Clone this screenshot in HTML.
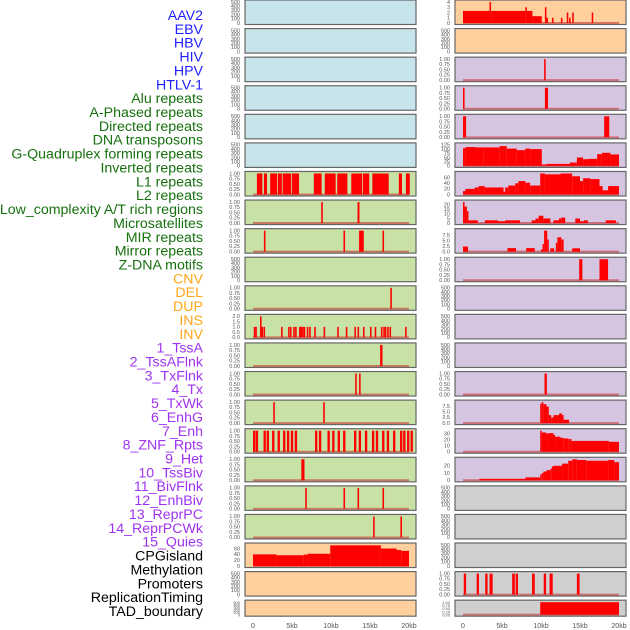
<!DOCTYPE html>
<html><head><meta charset="utf-8">
<style>
html,body{margin:0;padding:0;background:#fff;}
#wrap{position:relative;width:630px;height:630px;overflow:hidden;font-family:"Liberation Sans",sans-serif;}
svg{position:absolute;left:0;top:0;}
</style></head>
<body>
<div id="wrap">
<svg id="chart" width="630" height="630" viewBox="0 0 630 630"></svg>
</div>
<script>
// ---- labels ----
const trackLabels = ["AAV2","EBV","HBV","HIV","HPV","HTLV-1","Alu repeats","A-Phased repeats","Directed repeats","DNA transposons","G-Quadruplex forming repeats","Inverted repeats","L1 repeats","L2 repeats","Low_complexity A/T rich regions","Microsatellites","MIR repeats","Mirror repeats","Z-DNA motifs","CNV","DEL","DUP","INS","INV","1_TssA","2_TssAFlnk","3_TxFlnk","4_Tx","5_TxWk","6_EnhG","7_Enh","8_ZNF_Rpts","9_Het","10_TssBiv","11_BivFlnk","12_EnhBiv","13_ReprPC","14_ReprPCWk","15_Quies","CPGisland","Methylation","Promoters","ReplicationTiming","TAD_boundary"];
const labelGroups = [6,13,5,15,5];
const xTicks = [0,5,10,15,20];
const xTickLabels = ["0","5kb","10kb","15kb","20kb"];

// ---- data: segments [startKb, endKb, value] ----
const L7 = [[0.5,1.2,1],[1.4,1.8,1],[2.2,3.1,1],[3.2,3.7,1],[3.8,4.9,1],[5.0,5.9,1],[7.8,8.8,1],[9.2,10.6,1],[10.8,12.1,1],[12.6,14.0,1],[14.1,14.9,1],[15.3,17.4,1],[18.7,19.1,1],[19.6,20.1,1]];
const L8 = [[8.75,8.95,1],[13.4,13.65,1]];
const L9 = [[1.4,1.6,1],[11.6,11.8,1],[13.6,14.2,1],[16.6,16.8,1]];
const L11 = [[17.6,17.8,1]];
const L12 = [[0.1,0.3,1],[0.3,0.45,1],[0.9,1.1,2],[1.1,1.25,1],[1.35,1.5,1],[3.6,3.8,1],[4.5,4.7,1],[4.75,4.9,1],[5.15,5.35,1],[5.4,5.6,1],[5.9,6.1,1],[6.1,6.3,1],[6.3,6.5,1],[6.5,6.7,1],[6.9,7.1,1],[7.2,7.4,1],[7.85,8.05,1],[9.05,9.25,1],[10.8,11.0,1],[11.9,12.1,1],[13.0,13.2,1],[13.4,13.6,1],[14.1,14.3,1],[15.0,15.2,1],[15.6,15.8,1],[16.4,16.6,1],[16.7,16.9,1],[16.9,17.1,1],[17.2,17.4,1],[17.5,17.7,1],[19.5,19.7,1]];
const L13 = [[16.3,16.6,1]];
const L14 = [[13.1,13.3,1],[13.6,13.8,1]];
const L15 = [[2.6,2.8,1],[9.0,9.2,1]];
const L16 = [[0,0.3,1],[0.35,0.65,1],[1.35,1.65,1],[1.75,2.05,1],[2.45,2.75,1],[3.15,3.45,1],[3.85,4.15,1],[4.35,4.65,1],[4.85,5.15,1],[5.35,5.65,1],[7.95,8.25,1],[8.45,8.75,1],[9.55,9.85,1],[10.15,10.45,1],[10.85,11.15,1],[11.55,11.85,1],[12.95,13.25,1],[13.55,13.85,1],[14.35,14.65,1],[15.25,15.55,1],[15.75,16.05,1],[16.55,16.85,1],[17.15,17.45,1],[17.95,18.25,1],[18.85,19.15,1],[19.25,19.55,1],[19.75,20.05,1],[20.2,20.5,1]];
const L17 = [[6.2,6.6,1]];
const L18 = [[6.7,6.9,1],[11.6,11.8,1],[13.4,13.6,1],[16.6,16.8,1]];
const L19 = [[15.4,15.6,1],[18.9,19.1,1]];
const L20 = [[0,3,40],[3,6.5,37],[6.5,7,39],[7,9.9,42],[9.9,16.4,71],[16.4,18.4,60],[18.4,19,55],[19,20,52]];
const R1 = [[0,3.4,2.3],[3.4,3.6,4],[3.6,8.0,2.3],[8.0,8.2,3],[8.2,8.9,2.3],[8.9,10.1,1.3],[10.5,10.7,3],[10.7,10.9,1],[11.4,11.6,1],[12.55,12.75,1],[13.3,13.5,2],[13.6,13.8,1],[14.0,14.2,2],[16.5,16.7,2]];
const R3 = [[10.4,10.6,1]];
const R4 = [[0,0.2,1],[10.5,10.9,1]];
const R5 = [[0,0.4,1],[18.1,18.75,1]];
const R6 = [[0,0.3,105],[0.3,1.6,112],[1.6,2.6,110],[2.6,4.7,110],[4.7,5.6,118],[5.6,6.9,103],[6.9,8.0,94],[8.0,8.6,103],[8.6,10.1,100],[10.1,10.7,8],[10.7,13.7,12],[13.7,14.6,20],[14.6,15.4,50],[15.4,16.1,40],[16.1,17.2,42],[17.2,17.8,70],[17.8,18.9,78],[18.9,20,68]];
const R7 = [[0,0.3,12],[0.3,1.5,20],[1.5,2.0,25],[2.0,2.8,30],[2.8,5.2,25],[5.2,5.4,10],[5.4,5.8,25],[5.8,6.7,32],[6.7,7.1,40],[7.1,8.0,48],[8.0,8.6,42],[8.6,9.9,32],[9.9,10.5,75],[10.5,12.5,72],[12.5,14.0,75],[14.0,15.0,65],[15.0,15.4,48],[15.4,16.3,58],[16.3,17.5,55],[17.5,17.9,30],[17.9,18.6,15],[18.6,20,30]];
const R8 = [[0,0.2,23],[0.2,0.5,18],[0.5,0.7,13],[0.7,1.9,3],[2.8,4.5,3],[4.5,5.4,2],[5.4,6.2,3],[6.2,7.3,3],[8.8,9.3,3],[9.3,9.7,5],[9.7,10.3,8],[10.3,11.2,5],[11.6,12.3,3],[12.3,12.6,5],[12.6,13.1,6],[14.4,15.0,5],[15.0,15.5,2],[15.5,16.0,3],[18.3,19.6,3]];
const R9 = [[0,0.65,2.3],[5.7,6.8,1.6],[8.1,9.2,1.6],[10.0,10.2,1],[10.2,10.4,3.5],[10.4,10.8,9.5],[10.8,11.0,5.5],[11.2,11.7,1.5],[11.9,12.1,4],[12.1,12.6,6.5],[12.6,12.9,5.5],[14.0,15.0,1.5]];
const R10 = [[14.9,15.3,1],[17.5,18.6,1]];
const R14 = [[10.45,10.75,1]];
const R15 = [[9.9,10.1,8.5],[10.1,10.3,9.2],[10.3,10.7,8.3],[10.7,11.0,7.2],[11.0,11.3,3.5],[11.3,11.6,2.5],[11.6,12.3,3.5],[12.3,12.7,4.2],[12.7,12.9,3.5],[12.9,13.6,1.5]];
const R16 = [[9.9,10.1,35],[10.1,10.7,32],[10.7,10.9,30],[10.9,11.6,31],[11.6,11.8,28],[11.8,12.5,25],[12.5,12.9,23],[12.9,13.5,22],[13.5,13.9,21],[13.9,18.7,18],[18.7,20,16.5]];
const R17 = [[2.1,8.0,2],[8.0,9.9,4],[9.9,10.1,8],[10.1,10.3,10],[10.3,10.7,12],[10.7,11.2,14],[11.2,11.4,16],[11.4,11.6,19],[11.6,12.7,20],[12.7,13.5,23],[13.5,14.0,27],[14.0,14.6,29],[14.6,15.8,28],[15.8,18.6,27],[18.6,19.4,28],[19.4,20,25]];
const R21 = [[0.1,0.4,1],[1.75,2.05,1],[2.85,3.15,1],[3.4,3.8,1],[6.3,6.65,1],[6.75,7.05,1],[8.85,9.2,1],[10.35,10.65,1],[11.1,11.5,1],[14.6,14.95,1]];
const R22 = [[9.9,20,1]];

// ---- tick sets ----
const TICK_EMPTY = [[0,"0"],[100,"100"],[200,"200"],[300,"300"],[400,"400"],[500,"500"]];
const TICK_BIN = [[0,"0.00"],[0.25,"0.25"],[0.5,"0.50"],[0.75,"0.75"],[1,"1.00"]];

const C_BLUE="#c7e4eb", C_GREEN="#c8e1a4", C_PEACH="#ffd09e", C_LAV="#d5c5e1", C_GREY="#cfcfcf";

// panel defs: [col, row, bg, segments, ymax, ticks]
const panels = [
 [0,0,C_BLUE,null,500,TICK_EMPTY],[0,1,C_BLUE,null,500,TICK_EMPTY],[0,2,C_BLUE,null,500,TICK_EMPTY],
 [0,3,C_BLUE,null,500,TICK_EMPTY],[0,4,C_BLUE,null,500,TICK_EMPTY],[0,5,C_BLUE,null,500,TICK_EMPTY],
 [0,6,C_GREEN,L7,1,TICK_BIN],[0,7,C_GREEN,L8,1,TICK_BIN],[0,8,C_GREEN,L9,1,TICK_BIN],
 [0,9,C_GREEN,null,500,TICK_EMPTY],[0,10,C_GREEN,L11,1,TICK_BIN],
 [0,11,C_GREEN,L12,2,[[0,"0.0"],[0.5,"0.5"],[1,"1.0"],[1.5,"1.5"],[2,"2.0"]]],
 [0,12,C_GREEN,L13,1,TICK_BIN],[0,13,C_GREEN,L14,1,TICK_BIN],[0,14,C_GREEN,L15,1,TICK_BIN],
 [0,15,C_GREEN,L16,1,TICK_BIN],[0,16,C_GREEN,L17,1,TICK_BIN],[0,17,C_GREEN,L18,1,TICK_BIN],
 [0,18,C_GREEN,L19,1,TICK_BIN],
 [0,19,C_PEACH,L20,72,[[0,"0"],[20,"20"],[40,"40"],[60,"60"]]],
 [0,20,C_PEACH,null,500,TICK_EMPTY],[0,21,C_PEACH,null,500,TICK_EMPTY],
 [1,0,C_PEACH,R1,4,[[0,"0"],[1,"1"],[2,"2"],[3,"3"],[4,"4"]]],[1,1,C_PEACH,null,500,TICK_EMPTY],
 [1,2,C_LAV,R3,1,TICK_BIN],[1,3,C_LAV,R4,1,TICK_BIN],[1,4,C_LAV,R5,1,TICK_BIN],
 [1,5,C_LAV,R6,125,[[0,"0"],[25,"25"],[50,"50"],[75,"75"],[100,"100"],[125,"125"]]],
 [1,6,C_LAV,R7,75,[[0,"0"],[20,"20"],[40,"40"],[60,"60"]]],
 [1,7,C_LAV,R8,23,[[0,"0"],[5,"5"],[10,"10"],[15,"15"],[20,"20"]]],
 [1,8,C_LAV,R9,9.5,[[0,"0.0"],[2.5,"2.5"],[5,"5.0"],[7.5,"7.5"]]],
 [1,9,C_LAV,R10,1,TICK_BIN],[1,10,C_LAV,null,500,TICK_EMPTY],[1,11,C_LAV,null,500,TICK_EMPTY],
 [1,12,C_LAV,null,500,TICK_EMPTY],[1,13,C_LAV,R14,1,TICK_BIN],
 [1,14,C_LAV,R15,9.2,[[0,"0.0"],[2.5,"2.5"],[5,"5.0"],[7.5,"7.5"]]],
 [1,15,C_LAV,R16,35,[[0,"0"],[10,"10"],[20,"20"],[30,"30"]]],
 [1,16,C_LAV,R17,29,[[0,"0"],[10,"10"],[20,"20"]]],
 [1,17,C_GREY,null,500,TICK_EMPTY],[1,18,C_GREY,null,500,TICK_EMPTY],[1,19,C_GREY,null,500,TICK_EMPTY],
 [1,20,C_GREY,R21,1,TICK_BIN],[1,21,C_GREY,R22,1,TICK_BIN]
];

const NS="http://www.w3.org/2000/svg";
const svg=document.getElementById('chart');
function mk(tag,attrs,parent){const e=document.createElementNS(NS,tag);for(const k in attrs)e.setAttribute(k,attrs[k]);(parent||svg).appendChild(e);return e;}

// axis functions
const colLeft=[245,455], colW=171;
const x0=[253,463], pxPerKb=7.8;
function xScale(col,kb){return x0[col]+kb*pxPerKb;}
function rowTop(r){return r*28.58;}
function rowH(r){return r===21?16:24.5;}
function yScale(r,v,ymax){const t=rowTop(r)+2,b=rowTop(r)+rowH(r)-1.5;return b-(v/ymax)*(b-t);}

// labels
const labelColors=["#1f1fff","#17700f","#ffa61a","#a033f0","#000000"];
let li=0;
labelGroups.forEach((n,g)=>{for(let k=0;k<n;k++){const t=mk('text',{x:203,y:15+li*13.86+5,'text-anchor':'end','font-size':'14.2',fill:labelColors[g]});


t.textContent=trackLabels[li];li++;}});

panels.forEach((p,i)=>{
 const [col,r,bg,segs,ymax,ticks]=p;
 const g=mk('g',{});
 
 
 const top=rowTop(r),h=rowH(r);
 mk('rect',{x:colLeft[col],y:top,width:colW,height:h,fill:bg,stroke:'none'},g);
 if(segs){
  const bl=mk('line',{x1:xScale(col,0),x2:xScale(col,20),y1:yScale(r,0,ymax),y2:yScale(r,0,ymax),stroke:'rgba(200,40,40,0.55)','stroke-width':2},g);
  
  
  segs.forEach(s=>{
   const xa=xScale(col,s[0]),xb=xScale(col,s[1]);
   const y=yScale(r,s[2],ymax),yb=yScale(r,0,ymax);
   const b=mk('rect',{x:xa,y:y,width:Math.max(1.5,xb-xa),height:yb-y,fill:'#ff0000'},g);
   
   
  });
 }
 mk('rect',{x:colLeft[col],y:top,width:colW,height:h,fill:'none',stroke:'#666','stroke-width':1.2},g);
 const fs=(r===21)?4:5.5;
 ticks.forEach(t=>{
  const tt=mk('text',{x:colLeft[col]-5,y:yScale(r,t[0],ymax)+1.8,'text-anchor':'end','font-size':fs,fill:'#555'},g);
  
  
  tt.textContent=t[1];
 });
});

[0,1].forEach(col=>{
 xTicks.forEach((v,k)=>{
  const t=mk('text',{x:xScale(col,v),y:628,'text-anchor':'middle','font-size':7,fill:'#555'});
  
  
  t.textContent=xTickLabels[k];
 });
});
</script>
</body></html>
